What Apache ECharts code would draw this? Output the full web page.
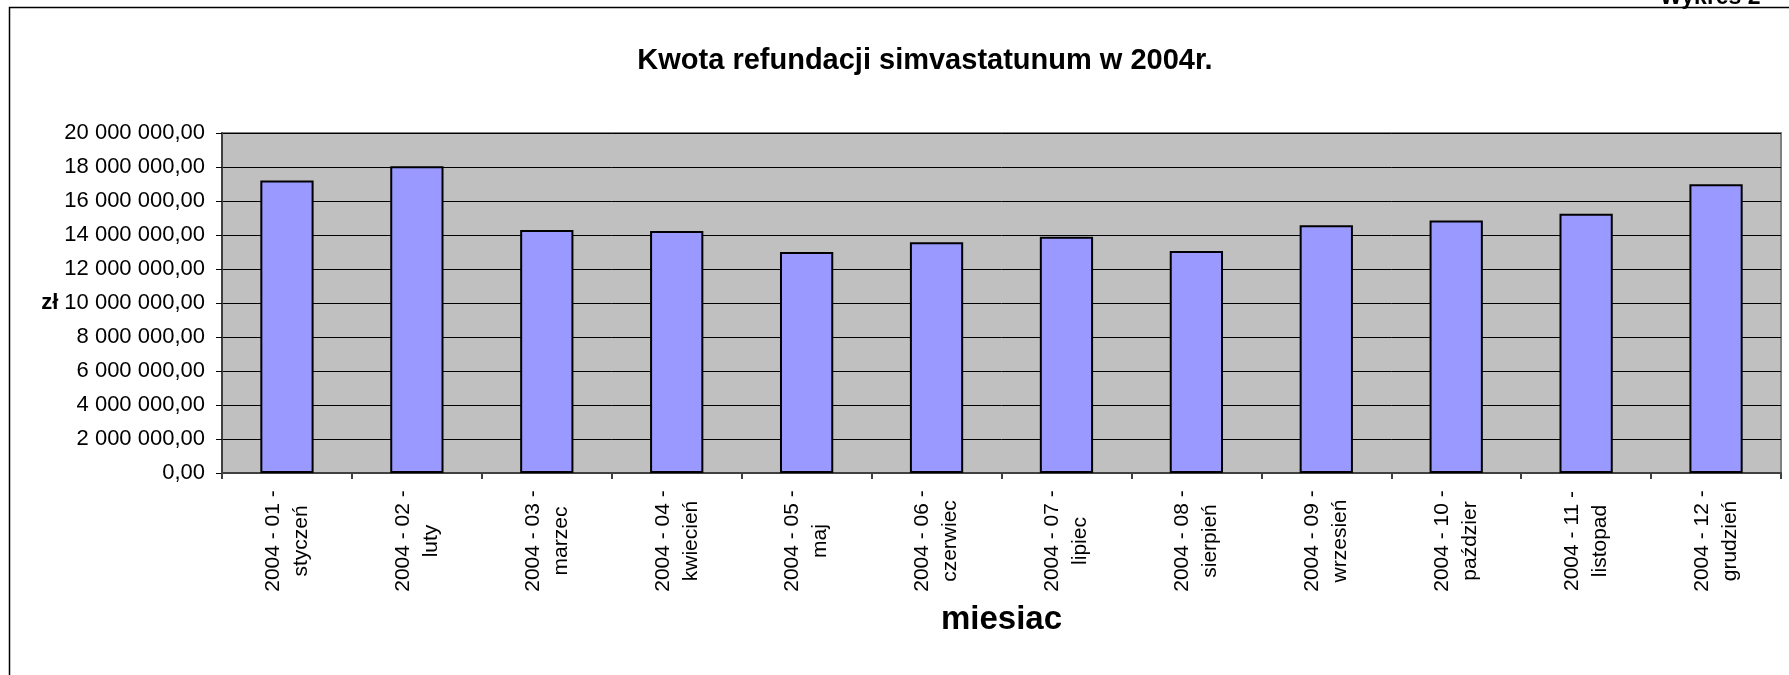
<!DOCTYPE html>
<html>
<head>
<meta charset="utf-8">
<script src="https://cdn.jsdelivr.net/npm/echarts@6/dist/echarts.min.js"></script>
<style>
  html, body { margin: 0; padding: 0; background: #fff; }
  #chart { width: 1789px; height: 675px; }
</style>
</head>
<body>
<div id="chart"></div>
<script>
// dane
const periods = ['2004 - 01 -', '2004 - 02 -', '2004 - 03 -', '2004 - 04 -', '2004 - 05 -', '2004 - 06 -',
  '2004 - 07 -', '2004 - 08 -', '2004 - 09 -', '2004 - 10 -', '2004 - 11 -', '2004 - 12 -']
const months = ['styczeń', 'luty', 'marzec', 'kwiecień', 'maj', 'czerwiec',
  'lipiec', 'sierpień', 'wrzesień', 'paździer', 'listopad', 'grudzień']
const amounts = [17210000, 18040000, 14290000, 14230000, 13000000, 13570000,
  13900000, 13060000, 14570000, 14860000, 15250000, 16980000]
const yMin = 0
const yMax = 20000000
const yStep = 2000000

const font = "'Liberation Sans', Arial, sans-serif"

// 20 000 000,00
const fmt = (v) => Math.round(v).toString().replace(/\B(?=(\d{3})+(?!\d))/g, ' ') + ',00'

const chart = echarts.init(document.getElementById('chart'))

const option = {
  backgroundColor: '#fff',
  animation: false,
  textStyle: { fontFamily: font },
  title: {
    text: 'Kwota refundacji simvastatunum w 2004r.',
    left: 920,
    top: 41,
    textAlign: 'center',
    textStyle: { fontFamily: font, fontSize: 29, fontWeight: 'bold', color: '#000' }
  },
  graphic: [
    // ramka wykresu (widoczna tylko lewa i górna krawędź)
    {
      type: 'rect',
      silent: true,
      shape: { x: 9.5, y: 7.5, width: 2000, height: 1000 },
      style: { fill: null, stroke: '#000', lineWidth: 1.5 }
    },
    {
      type: 'text',
      left: 1660,
      top: -14,
      style: { text: 'Wykres 2', fontFamily: font, fontSize: 23, fontWeight: 'bold', fill: '#000' }
    }
  ],
  grid: {
    left: 222,
    right: 8,
    top: 133,
    bottom: 202,
    show: true,
    backgroundColor: '#c0c0c0',
    borderColor: '#808080',
    borderWidth: 2
  },
  xAxis: {
    type: 'category',
    data: periods.map((p, i) => p + '\n' + months[i]),
    name: 'miesiac',
    nameLocation: 'middle',
    nameGap: 130,
    nameTextStyle: { fontFamily: font, fontSize: 33, fontWeight: 'bold', color: '#000' },
    axisLine: { lineStyle: { color: '#404040', width: 2 } },
    axisTick: { show: true, length: 6, lineStyle: { color: '#404040', width: 2 } },
    axisLabel: {
      interval: 0,
      rotate: 90,
      align: 'center',
      margin: 68,
      lineHeight: 28,
      fontFamily: font,
      fontSize: 21,
      color: '#000'
    }
  },
  yAxis: {
    type: 'value',
    min: yMin,
    max: yMax,
    interval: yStep,
    name: 'zł',
    nameLocation: 'middle',
    nameRotate: 0,
    nameGap: 151,
    nameTextStyle: { fontFamily: font, fontSize: 22, fontWeight: 'bold', color: '#000' },
    axisLine: { show: true, lineStyle: { color: '#404040', width: 2 } },
    axisTick: { show: true, length: 6, lineStyle: { color: '#000' } },
    axisLabel: { margin: 17, fontFamily: font, fontSize: 22, color: '#000', formatter: fmt },
    splitLine: { show: true, lineStyle: { color: '#000', width: 1 } }
  },
  series: [
    {
      type: 'bar',
      data: amounts,
      barWidth: '41%',
      itemStyle: { color: '#9999ff', borderColor: '#000', borderWidth: 2 }
    }
  ]
}

chart.setOption(option)
</script>
</body>
</html>
